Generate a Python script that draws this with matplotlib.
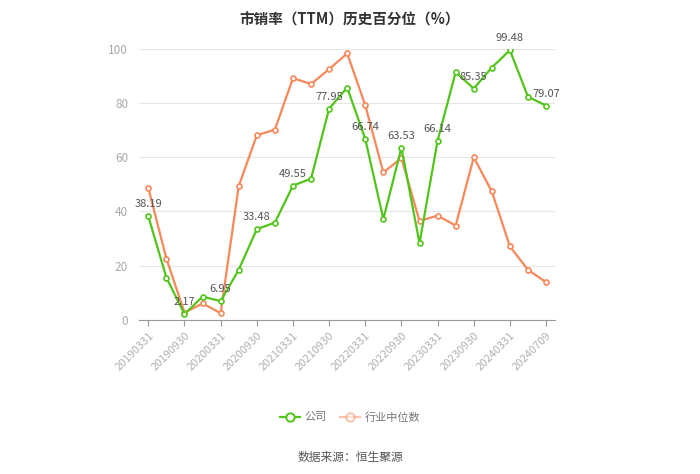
import matplotlib
matplotlib.use("Agg")
import matplotlib.pyplot as plt
import numpy as np

plt.rcParams['font.family'] = ['Noto Sans CJK SC', 'DejaVu Sans']

dates = ["20190331", "20190630", "20190930", "20191231", "20200331", "20200630",
         "20200930", "20201231", "20210331", "20210630", "20210930", "20211231",
         "20220331", "20220630", "20220930", "20221231", "20230331", "20230630",
         "20230930", "20231231", "20240331", "20240630", "20240709"]
company = [38.19, 15.6, 2.17, 8.6, 6.95, 18.5, 33.48, 35.9, 49.55, 52.1, 77.95, 85.7,
           66.74, 37.2, 63.53, 28.3, 66.14, 91.4, 85.35, 93.1, 99.48, 82.3, 79.07]
industry = [48.7, 22.6, 2.7, 6.1, 2.5, 49.4, 68.1, 70.2, 89.2, 87.0, 92.5, 98.3,
            79.2, 54.4, 59.7, 36.5, 38.5, 34.8, 60.0, 47.4, 27.1, 18.5, 13.9]

green = "#52C41A"
orange = "#F7885A"

fig = plt.figure(figsize=(7, 4.74), dpi=100)
ax = fig.add_axes([0.199, 0.325, 0.594, 0.572])

x = np.arange(len(dates))
ax.plot(x, company, color=green, lw=1.6, marker="o", ms=3.6,
        mfc="white", mec=green, mew=1.2, zorder=3)
ax.plot(x, industry, color=orange, lw=1.6, marker="o", ms=3.6,
        mfc="white", mec=orange, mew=1.2, zorder=2)

# value labels on every other company point
for i in range(0, len(dates), 2):
    ax.annotate(f"{company[i]:.2f}", (x[i], company[i]), xytext=(0, 5),
                textcoords="offset points", ha="center", va="bottom",
                fontsize=8, color="#555555", zorder=4)

ax.set_xlim(-0.5, len(dates) - 0.5)
ax.set_ylim(0, 100)
ax.set_yticks([0, 20, 40, 60, 80, 100])
ax.set_xticks(x[::2])
ax.set_xticklabels(dates[::2], rotation=45, ha="right", rotation_mode="anchor")

ax.grid(axis="y", color="#e6e6e6", lw=0.8)
ax.set_axisbelow(True)
for s in ["top", "right", "left"]:
    ax.spines[s].set_visible(False)
ax.spines["bottom"].set_color("#999999")
ax.tick_params(axis="y", length=0, labelcolor="#aaaaaa", labelsize=8.5, pad=8)
ax.tick_params(axis="x", length=4, color="#999999", labelcolor="#b0b0b0", labelsize=8)

fig.text(0.5, 0.975, "市销率（TTM）历史百分位（%）", ha="center", va="top",
         fontsize=10.5, fontweight="bold", color="#333333")

# legend handles (industry handle drawn pale as in the original)
h1, = ax.plot([], [], color=green, lw=1.6, marker="o", ms=6, mfc="white", mec=green, mew=1.4)
h2, = ax.plot([], [], color=orange, lw=1.6, marker="o", ms=6, mfc="white", mec=orange,
              mew=1.4, alpha=0.5)
ax.legend([h1, h2], ["公司", "行业中位数"], loc="center", bbox_to_anchor=(0.5, 0.12),
          bbox_transform=fig.transFigure, ncol=2, frameon=False, fontsize=8,
          labelcolor="#777777", handlelength=1.8, columnspacing=1.2, handletextpad=0.4)

fig.text(0.5, 0.035, "数据来源：恒生聚源", ha="center", va="center",
         fontsize=8.5, color="#555555")

fig.savefig("out.png", dpi=100)
